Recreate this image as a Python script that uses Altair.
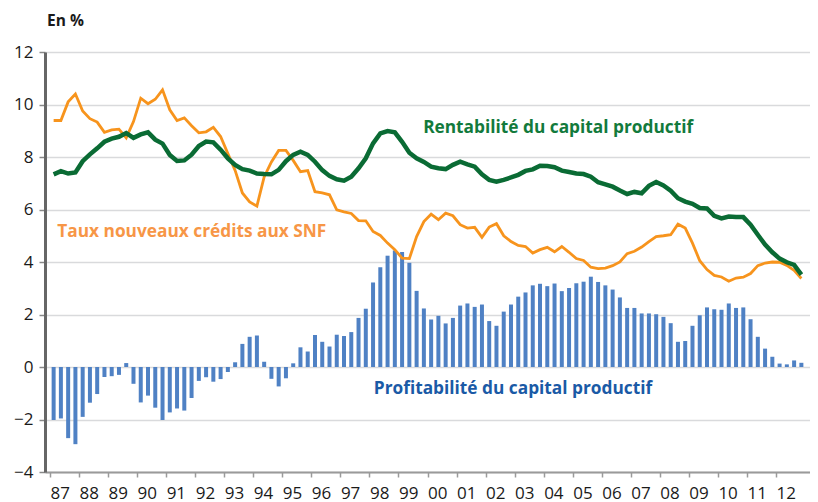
import altair as alt
import pandas as pd

years = list(range(1987, 2013))

profitabilite = [
    -2.02, -1.96, -2.71, -2.94, -1.90, -1.36, -1.03, -0.38, -0.35, -0.30, 0.15, -0.64,
    -1.35, -1.09, -1.55, -2.02, -1.73, -1.58, -1.66, -1.18, -0.53, -0.39, -0.56, -0.46,
    -0.19, 0.18, 0.88, 1.15, 1.20, 0.20, -0.45, -0.74, -0.43, 0.14, 0.75, 0.59,
    1.22, 0.96, 0.78, 1.23, 1.18, 1.33, 1.87, 2.22, 3.22, 3.80, 4.24, 4.44,
    4.38, 3.97, 2.90, 2.23, 1.81, 1.95, 1.66, 1.87, 2.34, 2.42, 2.29, 2.38,
    1.75, 1.57, 2.11, 2.38, 2.68, 2.84, 3.11, 3.17, 3.08, 3.18, 2.89, 3.01,
    3.19, 3.25, 3.44, 3.24, 3.11, 2.95, 2.65, 2.25, 2.25, 2.04, 2.04, 2.01,
    1.91, 1.67, 0.96, 0.99, 1.57, 1.97, 2.27, 2.20, 2.18, 2.42, 2.25, 2.27,
    1.82, 1.15, 0.70, 0.39, 0.13, 0.10, 0.25, 0.16,
]

taux_credits = [
    9.39, 9.39, 10.10, 10.40, 9.75, 9.46, 9.33, 8.94, 9.03, 9.06, 8.73, 9.35,
    10.24, 10.03, 10.20, 10.56, 9.80, 9.39, 9.49, 9.19, 8.92, 8.96, 9.13, 8.78,
    8.13, 7.49, 6.63, 6.29, 6.13, 7.24, 7.81, 8.25, 8.25, 7.87, 7.44, 7.48,
    6.68, 6.63, 6.56, 5.99, 5.91, 5.85, 5.58, 5.57, 5.16, 5.01, 4.72, 4.47,
    4.15, 4.13, 4.97, 5.54, 5.82, 5.61, 5.86, 5.76, 5.42, 5.29, 5.32, 4.94,
    5.33, 5.46, 5.00, 4.78, 4.63, 4.59, 4.34, 4.47, 4.56, 4.39, 4.59, 4.37,
    4.13, 4.06, 3.80, 3.75, 3.77, 3.86, 4.00, 4.32, 4.41, 4.57, 4.78, 4.97,
    5.00, 5.04, 5.44, 5.29, 4.72, 4.05, 3.71, 3.49, 3.43, 3.27, 3.39, 3.42,
    3.56, 3.86, 3.96, 4.00, 3.99, 3.87, 3.68, 3.37,
]

rentabilite = [
    7.34, 7.46, 7.37, 7.41, 7.84, 8.10, 8.33, 8.58, 8.70, 8.77, 8.91, 8.73,
    8.86, 8.94, 8.66, 8.51, 8.08, 7.85, 7.87, 8.09, 8.42, 8.59, 8.56, 8.28,
    7.95, 7.70, 7.54, 7.48, 7.37, 7.35, 7.34, 7.51, 7.84, 8.08, 8.20, 8.08,
    7.82, 7.50, 7.28, 7.15, 7.10, 7.25, 7.57, 7.95, 8.52, 8.90, 8.99, 8.94,
    8.58, 8.16, 7.95, 7.81, 7.63, 7.57, 7.54, 7.70, 7.82, 7.72, 7.63, 7.34,
    7.13, 7.06, 7.13, 7.22, 7.32, 7.47, 7.53, 7.67, 7.66, 7.61, 7.48, 7.43,
    7.37, 7.35, 7.25, 7.04, 6.96, 6.87, 6.72, 6.59, 6.67, 6.62, 6.90, 7.05,
    6.92, 6.72, 6.43, 6.30, 6.22, 6.06, 6.04, 5.76, 5.66, 5.73, 5.71, 5.71,
    5.42, 5.04, 4.66, 4.37, 4.13, 3.99, 3.89, 3.52,
]

label_texts = ["Rentabilité du capital productif", "Taux nouveaux crédits aux SNF",
               "Profitabilité du capital productif"]
label_x = [1999.85, 1987.25, 1998.15]
label_y = [9.1, 5.15, -0.85]
label_colors = ["#127a3c", "#f79646", "#1a5aa6"]

FONT = "Open Sans"

t = [y + q / 4 + 0.125 for y in years for q in range(4)]
df = pd.DataFrame({"t": t, "profit": profitabilite, "taux": taux_credits, "rent": rentabilite})
lab = pd.DataFrame({"label": label_texts, "x": label_x, "y": label_y, "c": label_colors})

xscale = alt.Scale(domain=[1987, 2013], nice=False, zero=False)
yscale = alt.Scale(domain=[-4, 12], nice=False)

xaxis = alt.Axis(values=years, labelExpr="substring(toString(datum.value), 2, 4)",
                 title=None, grid=False, labelAlign="left", labelOverlap=False,
                 labelFontSize=17, labelFont=FONT, labelColor="#1a1a1a", labelPadding=8,
                 domainColor="#9a9a9a", domainWidth=2, tickColor="#9a9a9a", tickSize=5,
                 tickWidth=1.5, labelFlush=False, labelBound=False)
yaxis = alt.Axis(values=list(range(-4, 13, 2)), title=None, grid=True, gridColor="#d9dadc",
                 gridWidth=1.5, labelFontSize=17, labelFont=FONT, labelColor="#1a1a1a",
                 labelPadding=6, domainColor="#666666", domainWidth=3, tickColor="#888888",
                 tickSize=6, tickWidth=1.5, labelOverlap=False)

bars = alt.Chart(df).mark_bar(color="#4f81c4", size=4).encode(
    x=alt.X("t:Q", scale=xscale, axis=xaxis),
    y=alt.Y("profit:Q", scale=yscale, axis=yaxis),
    y2=alt.datum(0),
)

orange = alt.Chart(df).mark_line(color="#f7941d", strokeWidth=2.8).encode(
    x=alt.X("t:Q", scale=xscale, axis=xaxis), y=alt.Y("taux:Q", scale=yscale, axis=yaxis))

green = alt.Chart(df).mark_line(color="#0a6b34", strokeWidth=4.5).encode(
    x=alt.X("t:Q", scale=xscale, axis=xaxis), y=alt.Y("rent:Q", scale=yscale, axis=yaxis))

texts = alt.Chart(lab).mark_text(align="left", baseline="middle", fontSize=17.3,
                                 fontWeight="bold", font=FONT).encode(
    x=alt.X("x:Q", scale=xscale, axis=xaxis), y=alt.Y("y:Q", scale=yscale, axis=yaxis),
    text="label:N", color=alt.Color("c:N", scale=None))

chart = alt.layer(bars, orange, green, texts).properties(
    width=765, height=420,
    title=alt.TitleParams("En %", anchor="start", frame="group", fontSize=15.5,
                          fontWeight="bold", font=FONT, color="#1a1a1a", offset=14, dx=2),
    autosize=alt.AutoSizeParams(type="none"),
    padding={"left": 37, "top": 44, "right": 0, "bottom": 30},
).configure_view(fill="#f1f2f4", stroke=None).configure(
    background="white").configure_axis(labelOverlap=False)

chart.save("out.html", embed_options={"renderer": "svg", "actions": False})
